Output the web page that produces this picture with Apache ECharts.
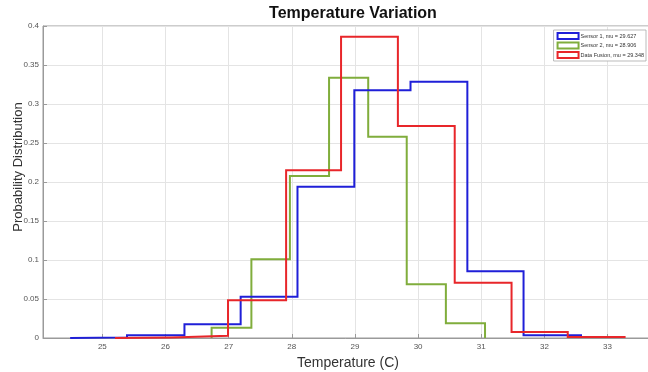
<!DOCTYPE html>
<html lang="en">
<head>
    <meta charset="UTF-8">
    <title>Temperature Variation</title>
    <style>
        html, body { margin: 0; padding: 0; background: #fff; }
        #main { width: 648px; height: 372px; }
    </style>
</head>
<body>
    <div id="main"></div>
</body>
<script src="https://cdn.jsdelivr.net/npm/echarts@6.0.0/dist/echarts.min.js"></script>
<script>
    // bin edges and probability values
    var sensor1Edges = [24.49, 25.39, 26.30, 27.19, 28.09, 28.99, 29.88, 30.78, 31.67, 32.58];
    var sensor1Vals = [0.0008, 0.0035, 0.0176, 0.053, 0.194, 0.3175, 0.3286, 0.0855, 0.0035];

    var sensor2Edges = [26.73, 27.36, 27.97, 28.59, 29.21, 29.82, 30.44, 31.06];
    var sensor2Vals = [0.0132, 0.101, 0.2077, 0.3337, 0.258, 0.069, 0.0188];

    var fusionEdges = [25.20, 26.10, 26.99, 27.91, 28.78, 29.68, 30.58, 31.48, 32.37, 33.27];
    var fusionVals = [0.0008, 0.003, 0.0483, 0.215, 0.3863, 0.2718, 0.0709, 0.0077, 0.0013];

    var seriesNames = ['Sensor 1, mu = 29.627', 'Sensor 2, mu = 28.906', 'Data Fusion, mu = 29.348'];
    var xTicks = [25, 26, 27, 28, 29, 30, 31, 32, 33];
    var yTicks = [0, 0.05, 0.1, 0.15, 0.2, 0.25, 0.3, 0.35, 0.4];

    // outline of a histogram drawn as stairs
    function stairs(edges, vals) {
        var pts = [[edges[0], 0]];
        for (var i = 0; i < vals.length; i++) {
            pts.push([edges[i], vals[i]]);
            pts.push([edges[i + 1], vals[i]]);
        }
        pts.push([edges[edges.length - 1], 0]);
        return pts;
    }

    var colors = ['#1f1fd8', '#80ad3c', '#e8262a'];
    var allData = [
        stairs(sensor1Edges, sensor1Vals),
        stairs(sensor2Edges, sensor2Vals),
        stairs(fusionEdges, fusionVals)
    ];

    var myChart = echarts.init(document.getElementById('main'));
    var gridColor = '#e4e4e4';
    var axisColor = '#9a9a9a';

    myChart.setOption({
        animation: false,
        title: {
            text: 'Temperature Variation',
            left: 348,
            textAlign: 'center',
            top: 1,
            textStyle: {
                fontFamily: 'Liberation Sans',
                fontSize: 16,
                fontWeight: 'bold',
                color: '#111'
            }
        },
        legend: {
            right: 2,
            top: 30,
            orient: 'vertical',
            align: 'left',
            backgroundColor: '#fff',
            borderColor: '#aaa',
            borderWidth: 0.8,
            borderRadius: 0,
            padding: [2, 2, 2, 3],
            itemWidth: 21,
            itemHeight: 6,
            itemGap: 1.5,
            textStyle: {
                fontFamily: 'Liberation Sans',
                fontSize: 5.5,
                color: '#333',
                padding: [0, 0, 0, -3]
            },
            data: seriesNames.map(function(n, i) {
                return {
                    name: n,
                    icon: 'rect',
                    itemStyle: {
                        color: '#fff',
                        borderColor: colors[i],
                        borderWidth: 2
                    }
                };
            })
        },
        grid: {
            left: 43,
            right: -5,
            top: 26,
            bottom: 34,
            containLabel: false,
            outerBoundsMode: 'none',
            show: true,
            borderColor: axisColor,
            borderWidth: 1
        },
        xAxis: {
            type: 'value',
            min: 24.06,
            max: 33.72,
            name: 'Temperature (C)',
            nameLocation: 'middle',
            nameGap: 18,
            nameMoveOverlap: false,
            nameTextStyle: {
                fontFamily: 'Liberation Sans',
                fontSize: 14,
                color: '#333'
            },
            axisLine: { lineStyle: { color: axisColor } },
            axisTick: {
                inside: true,
                length: 4,
                customValues: xTicks,
                lineStyle: { color: axisColor }
            },
            axisLabel: {
                customValues: xTicks,
                fontFamily: 'Liberation Sans',
                fontSize: 8,
                color: '#555',
                margin: 5
            },
            splitLine: { show: true, lineStyle: { color: gridColor } }
        },
        yAxis: {
            type: 'value',
            min: 0,
            max: 0.4,
            interval: 0.05,
            name: 'Probability Distribution',
            nameLocation: 'middle',
            nameGap: 18,
            nameMoveOverlap: false,
            nameTextStyle: {
                fontFamily: 'Liberation Sans',
                fontSize: 13,
                color: '#333',
                padding: [0, 0, 0, 30]
            },
            axisLine: { show: true, lineStyle: { color: axisColor } },
            axisTick: {
                show: true,
                inside: true,
                length: 4,
                lineStyle: { color: axisColor }
            },
            axisLabel: {
                fontFamily: 'Liberation Sans',
                fontSize: 8,
                color: '#555',
                margin: 4,
                formatter: function(v) {
                    return yTicks.indexOf(v) >= 0 ? String(v) : '';
                }
            },
            splitLine: { show: true, lineStyle: { color: gridColor } }
        },
        series: allData.map(function(d, i) {
            return {
                name: seriesNames[i],
                type: 'line',
                data: d,
                symbol: 'none',
                color: colors[i],
                lineStyle: { width: 2, color: colors[i], join: 'miter' },
                z: i === 2 ? 4 : (i === 0 ? 3 : 2)
            };
        })
    });
</script>
</html>
